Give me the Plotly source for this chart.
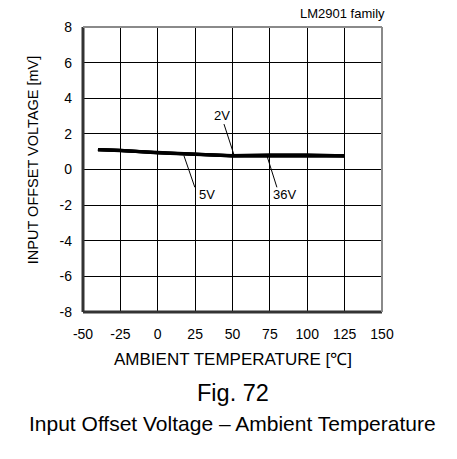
import plotly.graph_objects as go

# Input offset voltage vs ambient temperature, LM2901 family
temps = [-40, -25, 0, 25, 50, 75, 100, 125]
vio_2v = [1.12, 1.07, 0.93, 0.84, 0.77, 0.77, 0.77, 0.77]
vio_5v = [1.12, 1.06, 0.93, 0.83, 0.77, 0.77, 0.77, 0.77]
vio_36v = [1.12, 1.07, 0.94, 0.85, 0.78, 0.82, 0.82, 0.77]

x_ticks = [-50, -25, 0, 25, 50, 75, 100, 125, 150]
x_tick_text = ["-50", "-25", "0", "25", "50", "75", "100", "125", "150"]
y_ticks = [-8, -6, -4, -2, 0, 2, 4, 6, 8]
y_tick_text = ["-8", "-6", "-4", "-2", "0", "2", "4", "6", "8"]

# Label callouts: (text, label x, label y, leader start, leader end)
callouts = [
    ("2V", 43.0, 3.05, (44.3, 2.55), (51.0, 0.82)),
    ("5V", 33.0, -1.38, (17.5, 0.78), (24.8, -1.0)),
    ("36V", 84.5, -1.38, (73.0, 0.78), (79.7, -1.0)),
]

FONT = "Liberation Sans, Arial, Helvetica, sans-serif"

fig = go.Figure()
for name, vals in [("2V", vio_2v), ("5V", vio_5v), ("36V", vio_36v)]:
    fig.add_trace(go.Scatter(x=temps, y=vals, mode="lines", name=name,
                             line=dict(color="black", width=3.2),
                             showlegend=False, hoverinfo="skip"))

for text, lx, ly, p0, p1 in callouts:
    fig.add_trace(go.Scatter(x=[p0[0], p1[0]], y=[p0[1], p1[1]], mode="lines",
                             line=dict(color="black", width=1),
                             showlegend=False, hoverinfo="skip"))
    fig.add_annotation(x=lx, y=ly, xref="x", yref="y", text=text,
                       showarrow=False, font=dict(family=FONT, size=13, color="black"))

axis_common = dict(showgrid=True, gridcolor="black", gridwidth=1,
                   zeroline=False, showline=False, ticks="",
                   tickfont=dict(family=FONT, size=14, color="black"))

fig.update_xaxes(range=[-50, 150], tickvals=x_ticks, ticktext=x_tick_text,
                 ticklabelstandoff=12, **axis_common)
fig.update_yaxes(range=[-8, 8], tickvals=y_ticks, ticktext=y_tick_text,
                 ticklabelstandoff=10, **axis_common)

# Frame: darker left/bottom, lighter top/right
fig.add_shape(type="line", xref="paper", yref="paper", x0=0, x1=0, y0=0, y1=1,
              line=dict(color="#333333", width=3))
fig.add_shape(type="line", xref="paper", yref="paper", x0=0, x1=1, y0=0, y1=0,
              line=dict(color="#333333", width=3))
fig.add_shape(type="line", xref="paper", yref="paper", x0=0, x1=1, y0=1, y1=1,
              line=dict(color="#8a8a8a", width=2))
fig.add_shape(type="line", xref="paper", yref="paper", x0=1, x1=1, y0=0, y1=1,
              line=dict(color="#8a8a8a", width=2))

def paper_text(x, y, text, size, **kw):
    fig.add_annotation(x=x, y=y, xref="paper", yref="paper", text=text,
                       showarrow=False, xanchor=kw.pop("xanchor", "center"),
                       yanchor="middle", font=dict(family=FONT, size=size, color="black"), **kw)

paper_text(-0.167, 0.533, "INPUT OFFSET VOLTAGE [mV]", 14.5, textangle=-90)
paper_text(0.5, -0.165, "AMBIENT TEMPERATURE [℃]", 17)
paper_text(0.5, -0.284, "Fig. 72", 23.5)
paper_text(0.5, -0.39, "Input Offset Voltage – Ambient Temperature", 21)
paper_text(1.017, 1.049, "LM2901 family", 13, xanchor="right")

fig.update_layout(width=457, height=459,
                  margin=dict(l=83, r=75, t=27, b=147),
                  paper_bgcolor="white", plot_bgcolor="white")

fig.write_html("out.html")
